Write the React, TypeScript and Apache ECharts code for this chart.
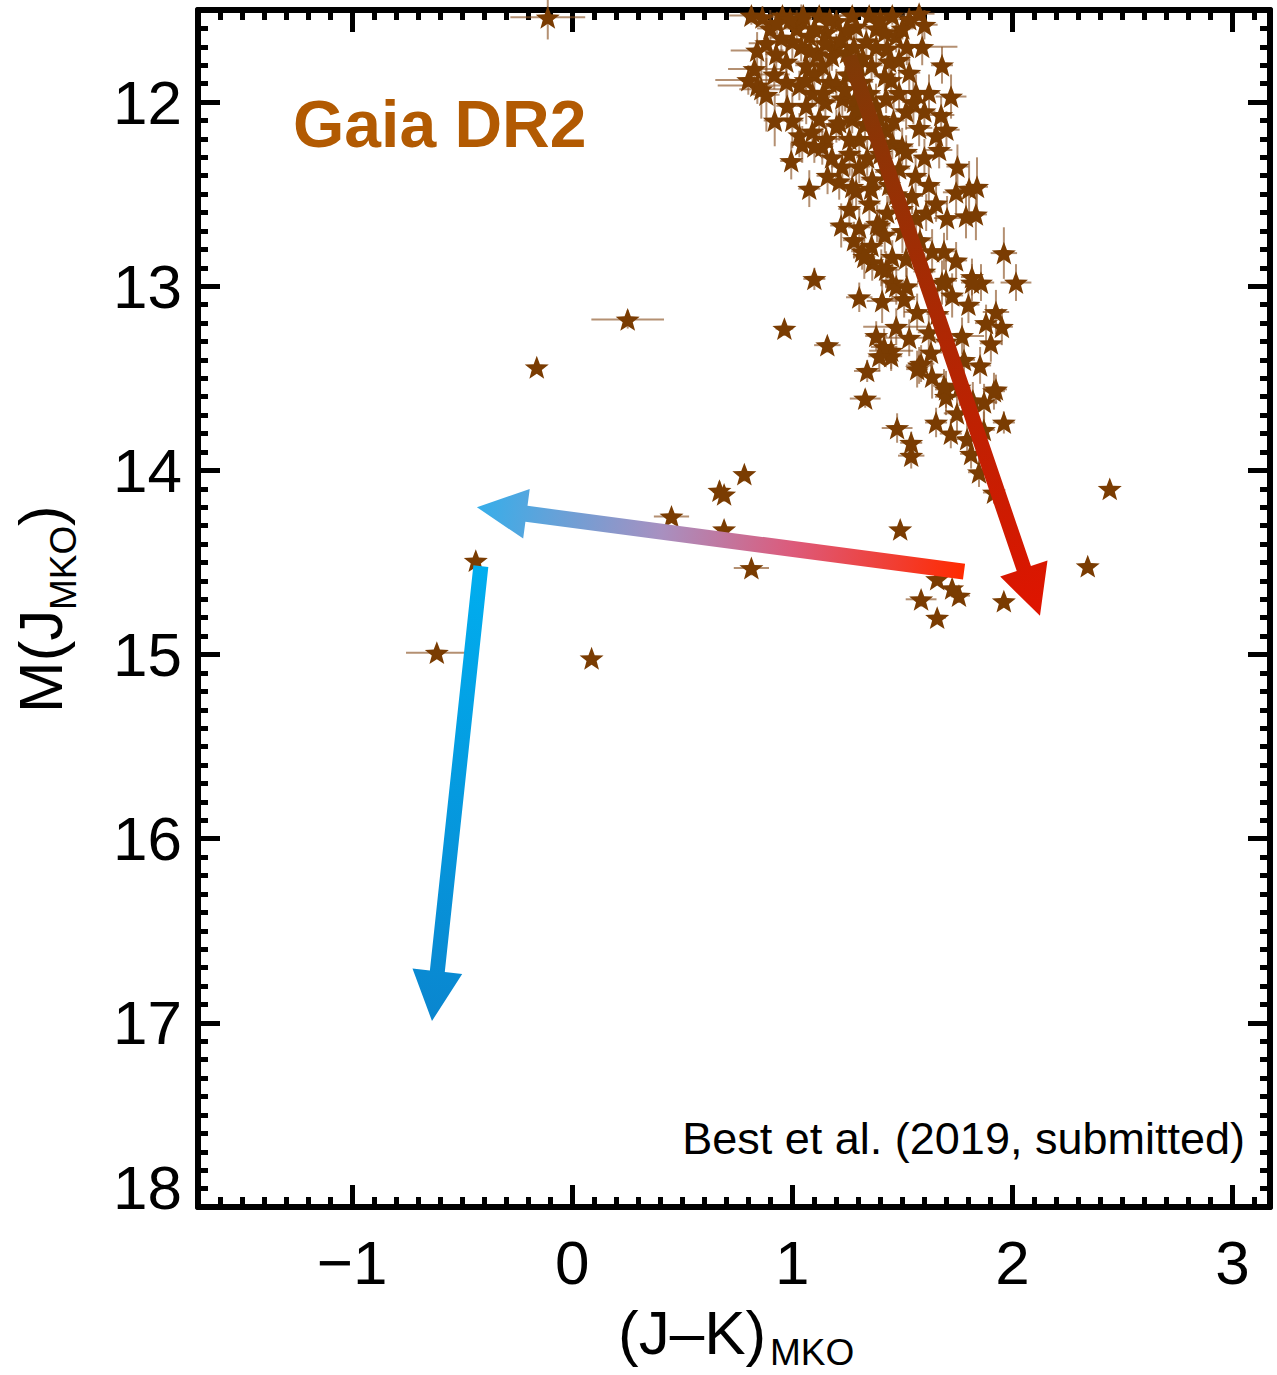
import React, { useEffect, useRef } from "react";
import * as echarts from "echarts";

// ---------- data ([J-K, M_J, xerr, yerr]) ----------
const TOP_CLUSTER: number[][] = [
  [0.814, 11.53, 0.1, 0.05], [0.864, 11.54, 0.08, 0.06], [0.955, 11.53, 0.06, 0.05], [1.041, 11.55, 0.05, 0.08],
  [1.122, 11.53, 0.12, 0.04], [1.2, 11.56, 0.06, 0.06], [1.272, 11.53, 0.1, 0.05], [1.349, 11.53, 0.08, 0.04],
  [1.454, 11.53, 0.06, 0.05], [1.531, 11.55, 0.05, 0.06], [1.576, 11.52, 0.07, 0.04], [1.59, 11.7, 0.16, 0.1],
  [0.828, 11.82, 0.12, 0.12], [0.841, 11.91, 0.18, 0.1], [0.859, 11.93, 0.1, 0.16], [0.882, 11.68, 0.08, 0.15],
  [0.927, 11.74, 0.05, 0.1], [0.973, 11.78, 0.06, 0.12], [0.918, 11.85, 0.07, 0.08], [0.973, 11.89, 0.05, 0.1],
  [0.882, 11.96, 0.06, 0.2], [0.977, 12.02, 0.05, 0.12], [1.063, 12.02, 0.05, 0.1], [1.032, 11.91, 0.04, 0.08],
  [1.063, 11.8, 0.05, 0.1], [1.113, 11.74, 0.06, 0.09], [1.077, 11.64, 0.05, 0.1], [1.154, 11.62, 0.04, 0.08],
  [1.2, 11.7, 0.05, 0.07], [1.249, 11.73, 0.04, 0.08], [1.336, 11.67, 0.06, 0.08], [1.381, 11.7, 0.05, 0.1],
  [1.431, 11.71, 0.04, 0.08], [1.472, 11.64, 0.05, 0.09], [1.44, 11.78, 0.05, 0.1], [1.485, 11.77, 0.05, 0.1],
  [1.449, 11.88, 0.04, 0.08], [1.485, 11.95, 0.05, 0.09], [1.426, 11.98, 0.05, 0.08], [1.562, 11.95, 0.06, 0.1],
  [1.621, 11.95, 0.05, 0.1], [1.676, 12.07, 0.06, 0.1], [1.721, 11.97, 0.07, 0.12], [1.576, 12.14, 0.06, 0.1],
  [1.653, 12.18, 0.05, 0.12], [1.667, 12.26, 0.06, 0.1], [1.032, 12.18, 0.04, 0.12], [1.091, 12.16, 0.05, 0.1],
  [1.154, 12.2, 0.05, 0.08], [1.122, 12.09, 0.04, 0.1], [1.2, 12.13, 0.05, 0.09], [1.272, 12.09, 0.04, 0.08],
  [1.304, 12.2, 0.05, 0.1], [1.381, 12.2, 0.05, 0.09], [1.426, 12.15, 0.05, 0.08], [1.454, 12.22, 0.04, 0.09],
  [1.499, 12.24, 0.05, 0.1], [1.227, 11.98, 0.05, 0.1], [1.317, 11.89, 0.05, 0.1], [1.168, 11.89, 0.06, 0.09],
  [1.091, 11.95, 0.05, 0.08], [1.0, 11.67, 0.05, 0.1], [1.381, 11.6, 0.06, 0.08], [1.29, 11.59, 0.05, 0.07],
  [1.245, 11.61, 0.06, 0.07], [1.531, 11.84, 0.05, 0.1], [1.517, 12.05, 0.05, 0.1], [1.395, 12.09, 0.05, 0.09],
  [1.213, 12.11, 0.05, 0.1], [1.259, 12.2, 0.06, 0.09], [1.136, 11.8, 0.05, 0.08], [1.3, 11.8, 0.05, 0.09],
  [1.04, 11.7, 0.05, 0.08], [1.18, 11.75, 0.04, 0.08], [1.1, 11.85, 0.05, 0.09], [1.25, 11.85, 0.05, 0.1],
  [1.35, 11.95, 0.05, 0.08], [1.15, 12.0, 0.05, 0.1], [1.28, 12.0, 0.05, 0.09], [1.33, 12.12, 0.05, 0.1],
  [1.1, 11.6, 0.05, 0.07], [1.2, 11.9, 0.05, 0.08], [1.36, 11.8, 0.05, 0.09], [1.42, 11.62, 0.05, 0.08],
  [0.9, 11.6, 0.06, 0.1], [0.95, 11.65, 0.05, 0.12], [1.02, 11.6, 0.06, 0.1], [1.08, 11.72, 0.05, 0.1],
  [1.15, 11.68, 0.05, 0.12], [1.22, 11.66, 0.05, 0.1], [1.28, 11.7, 0.05, 0.12], [1.32, 11.76, 0.05, 0.1],
  [1.06, 11.88, 0.05, 0.12], [1.14, 11.95, 0.05, 0.1], [1.24, 11.93, 0.05, 0.12], [1.3, 12.04, 0.05, 0.1],
  [1.38, 12.02, 0.05, 0.12], [1.42, 11.86, 0.05, 0.1], [1.52, 11.7, 0.05, 0.1], [1.55, 12.0, 0.05, 0.12],
  [1.6, 12.05, 0.05, 0.1], [1.46, 12.1, 0.05, 0.12], [0.8, 11.88, 0.15, 0.08], [0.84, 11.72, 0.12, 0.1],
  [0.92, 12.1, 0.05, 0.14], [1.0, 12.1, 0.05, 0.15], [0.99, 11.55, 0.06, 0.05], [1.17, 11.55, 0.05, 0.05],
  [1.4, 11.55, 0.06, 0.05], [1.5, 11.6, 0.05, 0.06], [1.05, 11.53, 0.08, 0.04], [0.93, 11.57, 0.06, 0.06],
  [1.6, 11.58, 0.06, 0.08], [1.68, 11.8, 0.05, 0.1], [1.7, 12.15, 0.06, 0.1],
];

const MID_SEQUENCE: number[][] = [
  [0.995, 12.32, 0.05, 0.1], [1.077, 12.47, 0.05, 0.1], [1.045, 12.23, 0.05, 0.1], [1.136, 12.24, 0.05, 0.1],
  [1.213, 12.43, 0.06, 0.1], [1.29, 12.48, 0.05, 0.1], [1.358, 12.47, 0.05, 0.09], [1.227, 12.35, 0.05, 0.08],
  [1.259, 12.58, 0.05, 0.1], [1.222, 12.67, 0.05, 0.12], [1.304, 12.68, 0.05, 0.1], [1.385, 12.66, 0.06, 0.1],
  [1.431, 12.6, 0.05, 0.09], [1.472, 12.5, 0.05, 0.1], [1.485, 12.36, 0.05, 0.08], [1.517, 12.27, 0.05, 0.09],
  [1.544, 12.51, 0.05, 0.1], [1.562, 12.63, 0.05, 0.09], [1.608, 12.6, 0.05, 0.1], [1.653, 12.55, 0.05, 0.1],
  [1.703, 12.63, 0.06, 0.12], [1.744, 12.49, 0.06, 0.12], [1.803, 12.47, 0.06, 0.15], [1.839, 12.46, 0.05, 0.16],
  [1.789, 12.62, 0.06, 0.12], [1.834, 12.61, 0.05, 0.14], [1.272, 12.46, 0.05, 0.1], [1.304, 12.35, 0.05, 0.09],
  [1.363, 12.42, 0.05, 0.08], [1.426, 12.38, 0.05, 0.1], [1.499, 12.58, 0.05, 0.1], [1.395, 12.67, 0.05, 0.09],
  [1.1, 12.24, 0.05, 0.09], [1.18, 12.3, 0.05, 0.1], [1.26, 12.28, 0.05, 0.12], [1.34, 12.3, 0.05, 0.1],
  [1.4, 12.28, 0.05, 0.1], [1.56, 12.4, 0.05, 0.1], [1.62, 12.45, 0.05, 0.12], [1.44, 12.45, 0.05, 0.1],
  [1.16, 12.4, 0.05, 0.1], [1.35, 12.55, 0.05, 0.1], [1.42, 12.72, 0.05, 0.1], [1.5, 12.7, 0.05, 0.12],
  [1.58, 12.75, 0.05, 0.1], [1.28, 12.75, 0.05, 0.1], [1.36, 12.78, 0.05, 0.1], [1.75, 12.35, 0.05, 0.12],
  [1.6, 12.3, 0.05, 0.1],
];

const LOWER_SEQUENCE: number[][] = [
  [1.317, 12.81, 0.05, 0.1], [1.363, 12.87, 0.05, 0.1], [1.426, 12.91, 0.06, 0.1], [1.454, 12.84, 0.05, 0.09],
  [1.517, 12.85, 0.05, 0.1], [1.635, 12.81, 0.05, 0.12], [1.689, 12.81, 0.06, 0.1], [1.744, 12.86, 0.05, 0.1],
  [1.698, 12.97, 0.05, 0.12], [1.816, 12.95, 0.05, 0.1], [1.857, 12.98, 0.06, 0.1], [1.1, 12.96, 0.05, 0.06],
  [1.304, 13.06, 0.06, 0.08], [1.327, 12.84, 0.05, 0.12], [1.404, 12.9, 0.05, 0.1], [1.408, 13.08, 0.07, 0.12],
  [1.454, 12.98, 0.05, 0.1], [1.508, 13.07, 0.05, 0.1], [1.567, 13.14, 0.06, 0.1], [1.472, 13.0, 0.05, 0.1],
  [1.68, 12.98, 0.05, 0.12], [1.726, 13.05, 0.05, 0.12], [1.961, 12.82, 0.06, 0.14], [2.016, 12.98, 0.07, 0.1],
  [1.925, 13.14, 0.06, 0.12], [1.952, 13.22, 0.05, 0.1], [1.902, 13.31, 0.05, 0.1], [1.853, 13.43, 0.05, 0.1],
  [1.925, 13.56, 0.05, 0.08], [1.871, 13.63, 0.06, 0.1], [1.961, 13.74, 0.05, 0.06], [1.771, 13.27, 0.1, 0.1],
  [1.63, 13.36, 0.05, 0.12], [1.576, 13.43, 0.06, 0.1], [1.635, 13.49, 0.05, 0.12], [1.698, 13.56, 0.05, 0.1],
  [1.653, 13.74, 0.05, 0.08], [1.748, 13.69, 0.06, 0.1], [1.794, 13.83, 0.05, 0.1], [1.812, 13.91, 0.05, 0.08],
  [1.848, 14.01, 0.05, 0.08], [1.916, 14.12, 0.05, 0.06], [1.159, 13.32, 0.06, 0.04], [0.964, 13.23, 0.04, 0.04],
  [1.34, 13.46, 0.06, 0.06], [1.331, 13.61, 0.07, 0.05], [1.476, 13.77, 0.07, 0.08], [1.54, 13.85, 0.05, 0.06],
  [1.54, 13.92, 0.06, 0.07], [1.472, 13.22, 0.15, 0.1], [1.531, 13.28, 0.12, 0.1], [1.449, 13.35, 0.1, 0.1],
  [1.381, 13.27, 0.05, 0.08], [1.417, 13.33, 0.06, 0.1], [1.449, 13.38, 0.05, 0.08], [1.395, 13.38, 0.05, 0.08],
  [1.585, 13.42, 0.06, 0.1], [1.567, 13.45, 0.05, 0.1], [1.698, 13.6, 0.05, 0.1], [1.816, 12.98, 0.05, 0.1],
  [1.689, 13.54, 0.05, 0.09], [1.916, 13.57, 0.05, 0.1], [1.52, 13.0, 0.05, 0.1], [1.6, 12.92, 0.05, 0.1],
  [1.66, 13.15, 0.05, 0.12], [1.62, 13.25, 0.05, 0.1], [1.7, 13.3, 0.05, 0.1], [1.78, 13.4, 0.05, 0.1],
  [1.76, 13.55, 0.05, 0.1], [1.82, 13.62, 0.05, 0.1], [1.87, 13.78, 0.05, 0.1], [1.72, 13.8, 0.05, 0.08],
  [1.88, 13.2, 0.05, 0.1], [1.8, 13.1, 0.05, 0.1],
];

const OUTLIERS: number[][] = [
  [-0.111, 11.54, 0.17, 0.12], [0.252, 13.18, 0.165, 0.05], [-0.161, 13.44, 0.03, 0.03], [0.782, 14.02, 0.03, 0.04],
  [0.669, 14.11, 0.03, 0.05], [0.69, 14.13, 0.03, 0.04], [0.451, 14.25, 0.08, 0.03], [0.69, 14.32, 0.03, 0.03],
  [0.814, 14.53, 0.08, 0.04], [-0.438, 14.49, 0.03, 0.03], [-0.615, 14.99, 0.14, 0.03], [0.088, 15.02, 0.03, 0.03],
  [1.49, 14.32, 0.03, 0.03], [2.442, 14.1, 0.03, 0.03], [2.342, 14.52, 0.03, 0.03], [1.961, 14.71, 0.03, 0.03],
  [1.585, 14.7, 0.07, 0.04], [1.658, 14.8, 0.04, 0.03], [1.757, 14.68, 0.05, 0.04], [1.726, 14.64, 0.04, 0.05],
  [1.658, 14.59, 0.03, 0.03],
];

// arrows: [x0, y0, x1(tip), y1(tip)]
const ARROWS: number[][] = [
  [1.258, 11.75, 2.125, 14.79],
  [1.78, 14.55, -0.433, 14.2],
  [-0.415, 14.52, -0.637, 16.99],
];

const X_TICKS = [-1, 0, 1, 2, 3];
const Y_TICKS = [12, 13, 14, 15, 16, 17, 18];
const X_MIN = -1.7, X_MAX = 3.17, Y_MIN = 11.5, Y_MAX = 18;

// ---------- styles ----------
const FONT = "Liberation Sans, Arial, Helvetica, sans-serif";
const STAR_COLOR = "#7a3c02";
const ERR_COLOR = "rgba(140,85,38,0.65)";
const ARROW_STOPS = [
  [
    { offset: 0, color: "#7e3a06" },
    { offset: 1, color: "#e01400" },
  ],
  [
    { offset: 0, color: "#ff2a00" },
    { offset: 0.35, color: "#dd5a7a" },
    { offset: 0.62, color: "#a890c0" },
    { offset: 1, color: "#35aeea" },
  ],
  [
    { offset: 0, color: "#00aeef" },
    { offset: 1, color: "#0a86cf" },
  ],
];
const STAR_PATH =
  "path://M100 0 L124.7 66 L195.1 69.1 L140 113 L158.8 180.9 L100 142 L41.2 180.9 L60 113 L4.9 69.1 L75.3 66 Z";

function minorValues(min: number, max: number, majors: number[]) {
  const out: number[] = [];
  for (let i = Math.ceil(min * 10); i <= Math.floor(max * 10); i++) {
    const v = i / 10;
    if (!majors.some((m) => Math.abs(m - v) < 1e-9)) out.push(v);
  }
  return out;
}

export default function App() {
  const ref = useRef<HTMLDivElement>(null);
  useEffect(() => {
    document.body.style.margin = "0";
    if (!ref.current) return;
    const chart = echarts.init(ref.current, null, { renderer: "svg" });
    const points = [...TOP_CLUSTER, ...MID_SEQUENCE, ...LOWER_SEQUENCE, ...OUTLIERS];
    const xMinor = minorValues(X_MIN, X_MAX, X_TICKS);
    const yMinor = minorValues(Y_MIN, Y_MAX, Y_TICKS);
    const tickStyle = { color: "#000", width: 5 };

    const xAxisBase = (position: string, ticks: number[], len: number, line: boolean, labels: boolean) => ({
      type: "value",
      position,
      min: X_MIN,
      max: X_MAX,
      axisLine: { show: line, onZero: false, lineStyle: { color: "#000", width: 6 } },
      axisTick: { show: true, inside: true, length: len, customValues: ticks, lineStyle: tickStyle },
      axisLabel: labels
        ? {
            show: true,
            customValues: X_TICKS,
            fontSize: 62,
            fontFamily: FONT,
            color: "#000",
            margin: 24,
            formatter: (v: number) => (v < 0 ? "\u2212" + Math.abs(v) : String(v)),
          }
        : { show: false },
      splitLine: { show: false },
    });
    const yAxisBase = (position: string, ticks: number[], len: number, line: boolean, labels: boolean) => ({
      type: "value",
      position,
      inverse: true,
      min: Y_MIN,
      max: Y_MAX,
      axisLine: { show: line, onZero: false, lineStyle: { color: "#000", width: 6 } },
      axisTick: { show: true, inside: true, length: len, customValues: ticks, lineStyle: tickStyle },
      axisLabel: labels
        ? {
            show: true,
            customValues: Y_TICKS,
            fontSize: 62,
            fontFamily: FONT,
            color: "#000",
            margin: 16,
            formatter: (v: number) => (v === 18 ? "{up|18}" : String(v)),
            rich: { up: { fontSize: 62, fontFamily: FONT, color: "#000", padding: [0, 0, 40, 0] } },
          }
        : { show: false },
      splitLine: { show: false },
    });

    const option: any = {
      animation: false,
      backgroundColor: "#fff",
      grid: { left: 198, right: 7, top: 10, bottom: 168, containLabel: false },
      xAxis: [
        xAxisBase("bottom", X_TICKS, 22, true, true),
        xAxisBase("bottom", xMinor, 10, false, false),
        xAxisBase("top", X_TICKS, 22, true, false),
        xAxisBase("top", xMinor, 10, false, false),
      ],
      yAxis: [
        yAxisBase("left", Y_TICKS, 22, true, true),
        yAxisBase("left", yMinor, 10, false, false),
        yAxisBase("right", Y_TICKS, 22, true, false),
        yAxisBase("right", yMinor, 10, false, false),
      ],
      series: [
        {
          type: "custom",
          name: "errors",
          xAxisIndex: 0,
          yAxisIndex: 0,
          z: 2,
          data: points,
          encode: { x: 0, y: 1 },
          renderItem: (params: any, api: any) => {
            const x = api.value(0), y = api.value(1), xe = api.value(2), ye = api.value(3);
            const c = api.coord([x, y]);
            const l = api.coord([x - xe, y]);
            const r = api.coord([x + xe, y]);
            const t = api.coord([x, y - ye]);
            const b = api.coord([x, y + ye]);
            return {
              type: "group",
              children: [
                { type: "line", shape: { x1: l[0], y1: c[1], x2: r[0], y2: c[1] }, style: { stroke: ERR_COLOR, lineWidth: 2 } },
                { type: "line", shape: { x1: c[0], y1: t[1], x2: c[0], y2: b[1] }, style: { stroke: ERR_COLOR, lineWidth: 2 } },
              ],
            };
          },
        },
        {
          type: "scatter",
          name: "stars",
          xAxisIndex: 0,
          yAxisIndex: 0,
          z: 3,
          symbol: STAR_PATH,
          symbolKeepAspect: true,
          symbolSize: 24,
          itemStyle: { color: STAR_COLOR, opacity: 1 },
          data: points.map((p) => [p[0], p[1]]),
        },
        {
          type: "custom",
          name: "arrows",
          xAxisIndex: 0,
          yAxisIndex: 0,
          z: 5,
          data: ARROWS,
          encode: { x: [0, 2], y: [1, 3] },
          renderItem: (params: any, api: any) => {
            const i = params.dataIndex;
            const p0 = api.coord([api.value(0), api.value(1)]);
            const p1 = api.coord([api.value(2), api.value(3)]);
            const dx = p1[0] - p0[0], dy = p1[1] - p0[1];
            const len = Math.hypot(dx, dy);
            const ux = dx / len, uy = dy / len;
            const nx = -uy, ny = ux;
            const sw = i === 1 ? 8 : 7.5;
            const hl = 50, hw = 25;
            const bx = p1[0] - ux * hl, by = p1[1] - uy * hl;
            const pts = [
              [p0[0] + nx * sw, p0[1] + ny * sw],
              [bx + nx * sw, by + ny * sw],
              [bx + nx * hw, by + ny * hw],
              [p1[0], p1[1]],
              [bx - nx * hw, by - ny * hw],
              [bx - nx * sw, by - ny * sw],
              [p0[0] - nx * sw, p0[1] - ny * sw],
            ];
            return {
              type: "polygon",
              shape: { points: pts },
              style: {
                fill: new echarts.graphic.LinearGradient(p0[0], p0[1], p1[0], p1[1], ARROW_STOPS[i], true),
                stroke: "none",
              },
            };
          },
        },
      ],
      graphic: [
        {
          type: "text",
          x: 293,
          y: 124,
          z: 10,
          style: {
            text: "Gaia DR2",
            fontSize: 66,
            fontWeight: "bold",
            fontFamily: FONT,
            fill: "#b25a02",
            align: "left",
            verticalAlign: "middle",
          },
        },
        {
          type: "text",
          x: 1245,
          y: 1138,
          z: 10,
          style: {
            text: "Best et al. (2019, submitted)",
            fontSize: 45,
            fontFamily: FONT,
            fill: "#000",
            align: "right",
            verticalAlign: "middle",
          },
        },
        {
          type: "text",
          x: 618,
          y: 1332,
          style: { text: "(J\u2013K)", fontSize: 62, fontFamily: FONT, fill: "#000", align: "left", verticalAlign: "middle" },
        },
        {
          type: "text",
          x: 770,
          y: 1352,
          style: { text: "MKO", fontSize: 37, fontFamily: FONT, fill: "#000", align: "left", verticalAlign: "middle" },
        },
        {
          type: "group",
          x: 40,
          y: 608,
          rotation: Math.PI / 2,
          children: [
            {
              type: "text",
              x: -105,
              y: 0,
              style: { text: "M(J", fontSize: 62, fontFamily: FONT, fill: "#000", align: "left", verticalAlign: "middle" },
            },
            {
              type: "text",
              x: -2,
              y: 23,
              style: { text: "MKO", fontSize: 37, fontFamily: FONT, fill: "#000", align: "left", verticalAlign: "middle" },
            },
            {
              type: "text",
              x: 82,
              y: 0,
              style: { text: ")", fontSize: 62, fontFamily: FONT, fill: "#000", align: "left", verticalAlign: "middle" },
            },
          ],
        },
      ],
    };
    chart.setOption(option);
    return () => chart.dispose();
  }, []);
  return <div ref={ref} style={{ width: 1277, height: 1375 }} />;
}
